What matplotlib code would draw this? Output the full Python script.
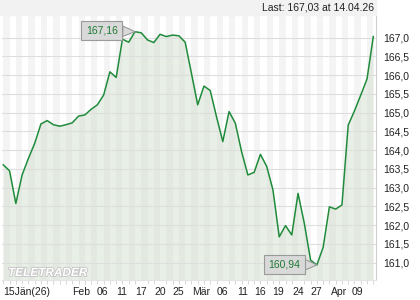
import matplotlib
matplotlib.use("Agg")
import matplotlib.pyplot as plt
import matplotlib.patheffects as pe
import numpy as np

plt.rcParams['font.family'] = ['Liberation Sans', 'DejaVu Sans']

# daily closes, 15 Jan - 14 Apr 2026
prices = [163.61, 163.45, 162.58, 163.34, 163.78, 164.18, 164.70, 164.79, 164.68, 164.64,
          164.68, 164.73, 164.91, 164.94, 165.09, 165.21, 165.47, 166.09, 165.94, 166.96,
          166.88, 167.16, 167.13, 166.94, 166.87, 167.09, 167.03, 167.07, 167.05, 166.88,
          166.05, 165.21, 165.71, 165.59, 164.89, 164.23, 165.03, 164.72, 163.96, 163.34,
          163.41, 163.89, 163.57, 162.94, 161.69, 161.99, 161.74, 162.85, 162.05, 161.07,
          160.94, 161.41, 162.49, 162.43, 162.54, 164.67, 165.05, 165.47, 165.90, 167.03]

date_labels = ['15Jän(26)', 'Feb', '06', '11', '17', '20', '25', 'Mär',
               '06', '11', '16', '19', '24', '27', 'Apr', '09']
date_pos = [3.8, 12.4, 15.8, 18.9, 22.0, 25.0, 27.9, 31.6,
            35.0, 38.1, 40.9, 43.8, 47.0, 49.9, 53.5, 56.4]

y_ticks = [161.0, 161.5, 162.0, 162.5, 163.0, 163.5, 164.0,
           164.5, 165.0, 165.5, 166.0, 166.5, 167.0]

last_text = 'Last: 167,03 at 14.04.26'

x = np.arange(len(prices))
ymin, ymax = 160.54, 167.605

fig = plt.figure(figsize=(4.2, 3.0), dpi=100)
ax = fig.add_axes([2 / 420, 20 / 300, 374 / 420, 265 / 300])

# header band
fig.patches.append(plt.Rectangle((0, 285 / 300), 376 / 420, 15 / 300,
                                 transform=fig.transFigure, color='#f2f2f2', zorder=0))
fig.text(374.5 / 420, 292.5 / 300, last_text, ha='right', va='center',
         fontsize=7.5, color='#222222')

# day stripes
for i in range(0, len(prices) - 1, 2):
    ax.axvspan(i, i + 1, color='#f4f4f4', lw=0, zorder=0)

ax.fill_between(x, prices, ymin, color='#d3e0cf', alpha=0.5, lw=0, zorder=1)
for v in y_ticks:
    ax.axhline(v, color='#dedede', lw=0.8, zorder=1.5)
ax.plot(x, prices, color='#1f8b3b', lw=1.1, zorder=3)

ax.set_xlim(-0.207, 59.43)
ax.set_ylim(ymin, ymax)

# high / low markers
hi = int(np.argmax(prices))
lo = int(np.argmin(prices))
box = dict(boxstyle='square,pad=0.45', fc='#d9d9d9', ec='#9a9a9a', lw=0.8)
arrow = dict(arrowstyle='wedge,tail_width=1.0,shrink_factor=0.5', fc='#d9d9d9',
             ec='#9a9a9a', lw=0.8, shrinkA=0, shrinkB=0)
ax.annotate(f'{prices[hi]:.2f}'.replace('.', ','), xy=(hi, prices[hi]),
            xytext=(15.7, 167.19), ha='center', va='center', fontsize=7.5,
            color='#1f7a35', bbox=box, arrowprops=arrow, zorder=5)
ax.annotate(f'{prices[lo]:.2f}'.replace('.', ','), xy=(lo, prices[lo]),
            xytext=(44.8, 160.96), ha='center', va='center', fontsize=7.5,
            color='#1f7a35', bbox=box, arrowprops=arrow, zorder=5)

# watermark
ax.text(6 / 374, 4 / 265, 'TELETRADER', transform=ax.transAxes, fontsize=8.5,
        fontweight='bold', fontstyle='italic', color='white', zorder=4,
        path_effects=[pe.withStroke(linewidth=1.3, foreground='#c6c6c6')])

# axes styling
for s in ['top', 'left']:
    ax.spines[s].set_visible(False)
ax.spines['right'].set_color('#cfcfcf')
ax.spines['bottom'].set_color('#e4e4e4')
ax.spines['right'].set_linewidth(0.8)
ax.spines['bottom'].set_linewidth(0.8)

ax.yaxis.tick_right()
ax.set_yticks(y_ticks, [f'{v:.1f}'.replace('.', ',') for v in y_ticks])
ax.tick_params(axis='y', length=0, pad=5, labelsize=7.5, labelcolor='#222222')

ax.set_xticks(date_pos, date_labels)
ax.set_xticks(x, minor=True)
ax.tick_params(axis='x', which='major', length=0, pad=5, labelsize=7.5, labelcolor='#222222')
ax.tick_params(axis='x', which='minor', length=3, width=0.6, color='#d0d0d0')

fig.savefig('out.png', dpi=100)
